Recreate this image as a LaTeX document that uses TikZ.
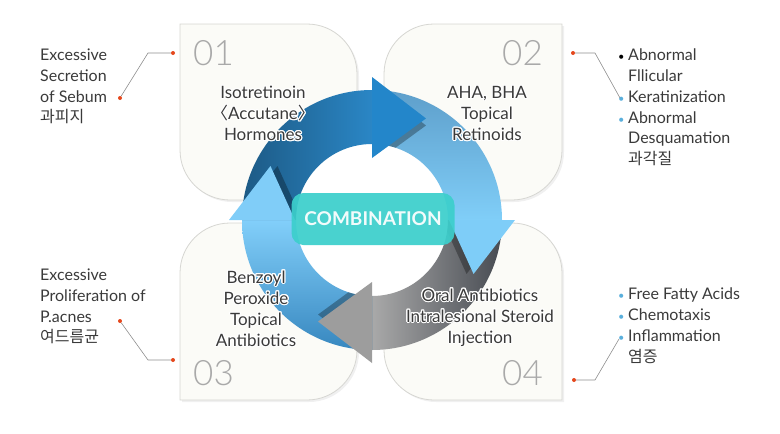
\documentclass[tikz,border=0pt]{standalone}
\usepackage{fontspec}
\setmainfont{Lato}
\newfontfamily\krfont{Noto Sans CJK KR}
\newfontfamily\numfont{Lato Light}
\usepackage{contour}
\contourlength{1.1pt}
\usetikzlibrary{shadows}

\definecolor{txtgray}{HTML}{3A3A3A}
\definecolor{numgray}{HTML}{A9A9A9}
\definecolor{boxline}{HTML}{D6D6D2}
\definecolor{boxfill}{HTML}{FBFBF7}
\definecolor{dotred}{HTML}{E5471C}
\definecolor{leadgray}{HTML}{8E8E8E}
\definecolor{bullblue}{HTML}{5AAFDC}
\definecolor{combofill}{HTML}{3CCFCC}
\definecolor{topL}{HTML}{1D5A85}
\definecolor{topR}{HTML}{2A86C5}
\definecolor{rightT}{HTML}{5E9FCB}
\definecolor{rightB}{HTML}{80CEF8}
\definecolor{grayR}{HTML}{474B52}
\definecolor{grayL}{HTML}{A9A9A9}
\definecolor{leftB}{HTML}{3787BF}
\definecolor{leftT}{HTML}{82CFFA}
\definecolor{headtop}{HTML}{2386CA}
\definecolor{headright}{HTML}{7ECDF8}
\definecolor{headgray}{HTML}{9D9D9D}
\definecolor{headleft}{HTML}{80CDF8}

\newcommand{\halo}[1]{\contour{white}{#1}}
\newcommand{\dotitem}[1]{\makebox[14pt][c]{\textcolor{#1}{\fontsize{11}{11}\selectfont •}}}
\newcommand{\noitem}{\hspace*{14pt}}
% box with one radius per corner: x0 y0 x1 y1 rTL rTR rBR rBL
\newcommand{\leafbox}[8]{%
  \draw[leaf] (#1,#2+#5) arc[start angle=180, end angle=270, radius=#5]
    -- (#3-#6,#2) arc[start angle=270, end angle=360, radius=#6]
    -- (#3,#4-#7) arc[start angle=0, end angle=90, radius=#7]
    -- (#1+#8,#4) arc[start angle=90, end angle=180, radius=#8] -- cycle;}

\tikzset{
  leaf/.style={draw=boxline, fill=boxfill, line width=0.8pt,
    drop shadow={shadow xshift=2pt, shadow yshift=-2pt, opacity=0.12}},
  boxnum/.style={font=\numfont\fontsize{35}{35}\selectfont, text=numgray, inner sep=0pt},
  boxlabel/.style={font=\fontsize{17}{21}\selectfont, text=txtgray, align=center, inner sep=0pt},
  sidetext/.style={font=\fontsize{16}{20.7}\selectfont, text=txtgray, align=left, inner sep=0pt},
  reddot/.style={circle, fill=dotred, inner sep=0pt, minimum size=4pt},
  leader/.style={draw=leadgray, line width=0.6pt},
  combo/.style={rounded corners=12pt, fill=combofill, fill opacity=0.93, text=white,
    minimum width=163pt, minimum height=52pt, font=\bfseries\fontsize{19}{19}\selectfont},
}

\begin{document}
\begin{tikzpicture}[x=1pt, y=-1pt]
    \useasboundingbox (0,0) rectangle (780,434);
    % Four cards
    \leafbox{180}{24}{357}{200}{0.01}{50}{50}{50}
    \leafbox{384}{24}{562}{200}{50}{0.01}{50}{50}
    \leafbox{180}{223}{357}{400}{50}{50}{50}{0.01}
    \leafbox{384}{223}{562}{400}{50}{50}{0.01}{50}
    % Card numbers
    \node[boxnum, anchor=base west] (n1) at (193,65) {01};
    \node[boxnum, anchor=base east] (n2) at (543,65) {02};
    \node[boxnum, anchor=base west] (n3) at (193,385) {03};
    \node[boxnum, anchor=base east] (n4) at (543,385) {04};
    % Cycle ring
    \begin{scope}[shift={(372,220)}]
        \fill[white] (0,0) circle (76);
        \shade[left color=topL, right color=topR]
            (180:130) arc[start angle=180, end angle=270, radius=130]
            -- (270:76) arc[start angle=270, end angle=180, radius=76] -- cycle;
        \shade[top color=rightT, bottom color=rightB]
            (270:130) arc[start angle=270, end angle=360, radius=130]
            -- (0:76) arc[start angle=360, end angle=270, radius=76] -- cycle;
        \shade[right color=grayR, left color=grayL]
            (0:130) arc[start angle=0, end angle=90, radius=130]
            -- (90:76) arc[start angle=90, end angle=0, radius=76] -- cycle;
        \shade[bottom color=leftB, top color=leftT]
            (90:130) arc[start angle=90, end angle=180, radius=130]
            -- (180:76) arc[start angle=180, end angle=90, radius=76] -- cycle;
        % head shadows
        \begin{scope}[even odd rule]
            \clip (0,0) circle (130) (0,0) circle (76);
            \foreach \a/\r in {270/62, 0/77, 90/62, 180/77}
                \fill[black, opacity=0.3, shift={(\a:-7)}] (\a:\r) -- (\a:143) -- (\a+28:115) -- cycle;
        \end{scope}
        % heads
        \foreach \a/\r/\c in {270/62/headtop, 0/77/headright, 90/62/headgray, 180/77/headleft}
            \fill[\c] (\a:\r) -- (\a:143) -- (\a+28:115) -- cycle;
    \end{scope}
    % Card texts
    \node[boxlabel] (iso) at (263,114) {\halo{Isotretinoin}\\\halo{{\krfont 〈}Accutane{\krfont 〉}}\\\halo{Hormones}};
    \node[boxlabel] (aha) at (487,114) {\halo{AHA, BHA}\\\halo{Topical}\\\halo{Retinoids}};
    \node[boxlabel] (benz) at (256,309) {\halo{Benzoyl}\\\halo{Peroxide}\\\halo{Topical}\\\halo{Antibiotics}};
    \node[boxlabel] (oral) at (480,318) {\halo{Oral Antibiotics}\\\halo{Intralesional Steroid}\\\halo{Injection}};
    \node[combo] (combo) at (373,219) {COMBINATION};
    % Side texts
    \node[sidetext, anchor=north west] (sebum) at (40,49) {Excessive\\Secretion\\of Sebum\\{\krfont 과피지}};
    \node[sidetext, anchor=north west] (acnes) at (40,269) {Excessive\\Proliferation of\\P.acnes\\{\krfont 여드름균}};
    \node[sidetext, anchor=north west] (kerat) at (614,49) {\dotitem{black}Abnormal\\\noitem Fllicular\\\dotitem{bullblue}Keratinization\\\dotitem{bullblue}Abnormal\\\noitem Desquamation\\\noitem{\krfont 과각질}};
    \node[sidetext, anchor=north west] (ffa) at (614,288) {\dotitem{bullblue}Free Fatty Acids\\\dotitem{bullblue}Chemotaxis\\\dotitem{bullblue}Inflammation\\\noitem{\krfont 염증}};
    % Leaders
    \node[reddot] (d1a) at (120,98) {};
    \node[reddot] (d1b) at (173,53) {};
    \coordinate (k1) at (148,53);
    \draw[leader] (d1a) -- (k1) -- (d1b);
    \node[reddot] (d3a) at (120,321) {};
    \node[reddot] (d3b) at (173,360) {};
    \coordinate (k3) at (148,360);
    \draw[leader] (d3a) -- (k3) -- (d3b);
    \node[reddot] (d2) at (573,53) {};
    \coordinate (k2) at (595,53);
    \coordinate (kb) at (620,98);
    \draw[leader] (d2) -- (k2) -- (kb);
    \node[reddot] (d4) at (574,380) {};
    \coordinate (k4) at (595,380);
    \coordinate (ib) at (619,339);
    \draw[leader] (d4) -- (k4) -- (ib);
\end{tikzpicture}
\end{document}
